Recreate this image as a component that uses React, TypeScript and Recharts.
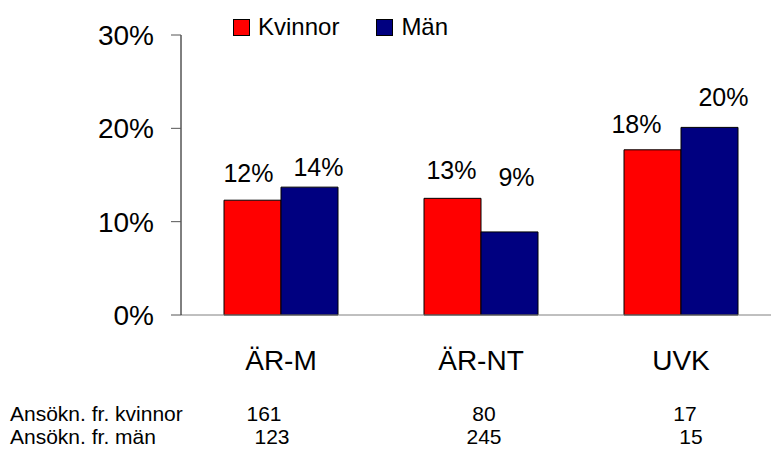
import React from 'react';
import { BarChart, Bar, XAxis, YAxis, Legend, LabelList } from 'recharts';

// Share of applicants admitted, by program and gender (%)
const programs = ['ÄR-M', 'ÄR-NT', 'UVK'];
const women = [12.3, 12.5, 17.7];
const men = [13.7, 8.9, 20.1];

// Number of applications, shown as a small table below the axis
const rowLabels = ['Ansökn. fr. kvinnor', 'Ansökn. fr. män'];
const appsWomen = [161, 80, 17];
const appsMen = [123, 245, 15];

const yTicks = [0, 10, 20, 30];

// the original has hand-moved data labels, nudge them the same way (dx, dy)
const womenNudge = [[-4, 0], [-1, -1], [-16, 1]];
const menNudge = [[9, 7], [7, -28], [14, -3]];
// table cells are not quite centred under the categories either
const womenCellDx = [-17, 3, 4];
const menCellDx = [-9, 3, 10];

const RED = '#FF0000';
const NAVY = '#000080';
const FONT = "'Liberation Sans', Arial, sans-serif";

const data = programs.map((name, i) => ({
  name,
  kvinnor: women[i],
  man: men[i],
}));

const makeLabel = (nudge: number[][]) => (props: any) => {
  const { x, y, width, value, index } = props;
  const [dx, dy] = nudge[index] || [0, 0];
  return (
    <text
      x={x + width / 2 + dx}
      y={y - 18 + dy}
      textAnchor="middle"
      fontSize={25}
      fill="#000"
    >
      {Math.round(value)}%
    </text>
  );
};

const CategoryTick = (props: any) => {
  const { x, y, payload } = props;
  const i = payload.index;
  const row1 = y + 106;
  const row2 = y + 129;
  return (
    <g>
      <text x={x} y={y + 55} textAnchor="middle" fontSize={28} fill="#000">
        {payload.value}
      </text>
      <text x={x + womenCellDx[i]} y={row1} textAnchor="middle" fontSize={21} fill="#000">
        {appsWomen[i]}
      </text>
      <text x={x + menCellDx[i]} y={row2} textAnchor="middle" fontSize={21} fill="#000">
        {appsMen[i]}
      </text>
      {i === 0 &&
        rowLabels.map((t, r) => (
          <text key={t} x={10} y={r === 0 ? row1 : row2} textAnchor="start" fontSize={21} fill="#000">
            {t}
          </text>
        ))}
    </g>
  );
};

const LegendBox = () => (
  <div style={{ display: 'flex', alignItems: 'center', fontSize: 24, lineHeight: 1, fontFamily: FONT }}>
    <span style={{ width: 15, height: 15, background: RED, border: '1px solid #000', marginRight: 8 }} />
    <span style={{ marginRight: 37 }}>Kvinnor</span>
    <span style={{ width: 15, height: 15, background: NAVY, border: '1px solid #000', marginRight: 8 }} />
    <span>Män</span>
  </div>
);

export default function App() {
  return (
    <div
      style={{
        position: 'absolute',
        left: 0,
        top: 0,
        width: 771,
        height: 450,
        overflow: 'hidden',
        background: '#fff',
        fontFamily: FONT,
      }}
    >
      <BarChart
        width={790}
        height={450}
        data={data}
        margin={{ top: 35, right: 9, left: 0, bottom: 0 }}
        barGap={0}
        barSize={57}
      >
        <XAxis
          dataKey="name"
          height={135}
          tickSize={0}
          tickMargin={0}
          axisLine={{ stroke: '#808080' }}
          tickLine={false}
          tick={<CategoryTick />}
          interval={0}
        />
        <YAxis
          width={181}
          domain={[0, 30]}
          ticks={yTicks}
          tickFormatter={(v) => `${v}%`}
          tickSize={10}
          tickMargin={17}
          axisLine={{ stroke: '#000' }}
          tickLine={{ stroke: '#555' }}
          tick={{ fontSize: 28, fill: '#000' }}
        />
        <Legend
          verticalAlign="middle"
          align="center"
          content={<LegendBox />}
          wrapperStyle={{ top: 15, left: 233, width: 'auto' }}
        />
        <Bar dataKey="kvinnor" name="Kvinnor" fill={RED} stroke="#000" strokeWidth={1} isAnimationActive={false}>
          <LabelList dataKey="kvinnor" content={makeLabel(womenNudge)} />
        </Bar>
        <Bar dataKey="man" name="Män" fill={NAVY} stroke="#000" strokeWidth={1} isAnimationActive={false}>
          <LabelList dataKey="man" content={makeLabel(menNudge)} />
        </Bar>
      </BarChart>
    </div>
  );
}
